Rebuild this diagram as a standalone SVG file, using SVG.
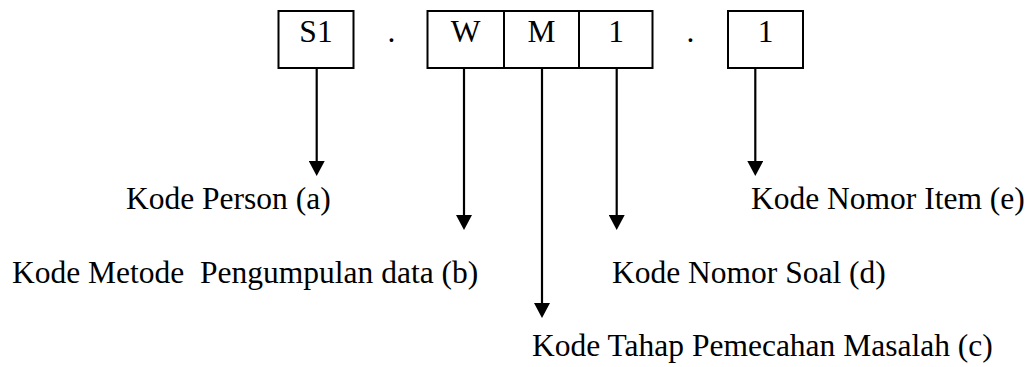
<svg xmlns="http://www.w3.org/2000/svg" width="1032" height="367" viewBox="0 0 1032 367">
  <style>
    .box { fill: #ffffff; stroke: #000000; stroke-width: 2; }
    .div { stroke: #000000; stroke-width: 2; }
    .lbl { font-family: "Liberation Serif", "Times New Roman", serif; font-size: 31.5px; fill: #000000; }
    .cell { font-family: "Liberation Serif", "Times New Roman", serif; font-size: 31.5px; fill: #000000; text-anchor: middle; }
    .arrow { fill: none; stroke: #000000; stroke-width: 2.2; marker-end: url(#head); }
  </style>
  <defs>
    <marker id="head" markerUnits="userSpaceOnUse" viewBox="0 0 15 16" markerWidth="15" markerHeight="16" refX="10" refY="8" orient="auto">
      <path d="M0,0 L15,8 L0,16 Z" fill="#000000"/>
    </marker>
  </defs>
  <rect width="1032" height="367" fill="#ffffff"/>

  <!-- code cells -->
  <g id="cell-s1">
    <rect class="box" x="278.5" y="11" width="75" height="57"/>
    <text class="cell" x="316" y="42">S1</text>
  </g>
  <g id="sep-1">
    <text class="cell" x="391.5" y="42">.</text>
  </g>
  <g id="cell-wm1">
    <rect class="box" x="427.5" y="11" width="225" height="57"/>
    <line class="div" x1="504" y1="11" x2="504" y2="68"/>
    <line class="div" x1="579" y1="11" x2="579" y2="68"/>
    <text class="cell" x="465.5" y="42">W</text>
    <text class="cell" x="541.5" y="42">M</text>
    <text class="cell" x="616" y="42">1</text>
  </g>
  <g id="sep-2">
    <text class="cell" x="690.5" y="42">.</text>
  </g>
  <g id="cell-item">
    <rect class="box" x="728" y="11" width="75" height="57"/>
    <text class="cell" x="765.5" y="42">1</text>
  </g>

  <!-- connectors -->
  <g id="connectors">
    <path class="arrow" d="M316.7,68 V171"/>
    <path class="arrow" d="M464,68 V225"/>
    <path class="arrow" d="M542,68 V313"/>
    <path class="arrow" d="M616.7,68 V225"/>
    <path class="arrow" d="M755.3,68 V171"/>
  </g>

  <!-- labels -->
  <g id="label-a"><text class="lbl" x="126" y="209">Kode Person (a)</text></g>
  <g id="label-b"><text class="lbl" x="12" y="283" xml:space="preserve">Kode Metode  Pengumpulan data (b)</text></g>
  <g id="label-c"><text class="lbl" x="532" y="356">Kode Tahap Pemecahan Masalah (c)</text></g>
  <g id="label-d"><text class="lbl" x="612" y="283">Kode Nomor Soal (d)</text></g>
  <g id="label-e"><text class="lbl" x="751" y="209">Kode Nomor Item (e)</text></g>
</svg>
